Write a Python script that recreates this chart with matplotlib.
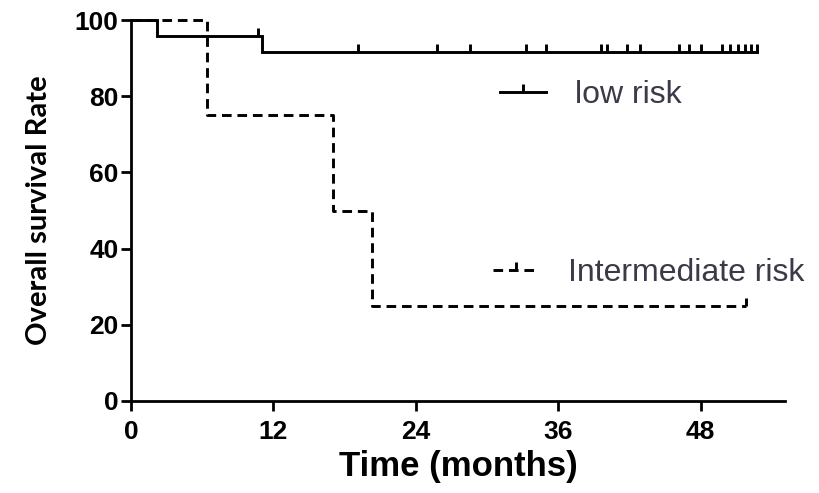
import matplotlib
matplotlib.use("Agg")
import matplotlib.pyplot as plt
from matplotlib.lines import Line2D

# ---- data ----
low_times = [0, 2.2, 11.0, 52.7]
low_surv = [100, 95.8, 91.7, 91.7]
low_cens_t = [10.7, 19.1, 25.8, 28.6, 33.3, 35.0, 39.6, 40.1, 41.8, 42.9,
              46.2, 47.0, 48.0, 49.8, 50.5, 51.1, 51.7, 52.2, 52.7]
low_cens_s = [95.8] + [91.7] * 18

int_times = [0, 6.4, 17.0, 20.3, 51.8]
int_surv = [100, 75, 50, 25, 25]
int_cens_t = [51.8]
int_cens_s = [25]

xticks = [0, 12, 24, 36, 48]
yticks = [0, 20, 40, 60, 80, 100]
series_labels = ["low risk", "Intermediate risk"]

# ---- figure ----
fig = plt.figure(figsize=(8.19, 4.93), dpi=100)
ax = fig.add_axes([131 / 819, 1 - 401 / 493, (785 - 131) / 819, (401 - 20) / 493])

lw = 2.1
tick_marker = [(0, 0), (0, 1)]
dash = (3.3, 2.0)

ax.step(low_times, low_surv, where="post", color="black", lw=lw,
        solid_joinstyle="miter", clip_on=False)
ax.plot(low_cens_t, low_cens_s, ls="none", marker=tick_marker, ms=11,
        mew=2.1, color="black", clip_on=False)

ax.step(int_times, int_surv, where="post", color="black", lw=lw,
        dashes=dash, clip_on=False)
ax.plot(int_cens_t, int_cens_s, ls="none", marker=tick_marker, ms=11,
        mew=2.1, color="black", clip_on=False)

ax.set_xlim(0, 55.1)
ax.set_ylim(0, 100)
ax.set_xticks(xticks)
ax.set_yticks(yticks)

for s in ["top", "right"]:
    ax.spines[s].set_visible(False)
for s in ["left", "bottom"]:
    ax.spines[s].set_linewidth(2.0)

ax.tick_params(axis="both", length=7, width=2.0, direction="out",
               labelsize=19, colors="black")
ax.tick_params(axis="x", pad=7)
ax.tick_params(axis="y", pad=2)
for lab in ax.get_xticklabels() + ax.get_yticklabels():
    lab.set_fontfamily("Liberation Sans")
    lab.set_fontweight("bold")

ax.set_xlabel("Time (months)", fontsize=25, fontweight="bold",
              fontfamily="Liberation Sans", labelpad=4)
ax.set_ylabel("Overall survival Rate", fontsize=21, fontweight="bold",
              fontfamily="Lato", labelpad=16)

# ---- legends ----
h1 = Line2D([], [], color="black", lw=lw, marker=tick_marker, ms=11, mew=2.1)
h2 = Line2D([], [], color="black", lw=lw, dashes=dash, marker=tick_marker,
            ms=11, mew=2.1)
leg_kw = dict(frameon=False, handlelength=1.45, handletextpad=0.9,
              borderpad=0, borderaxespad=0, numpoints=1,
              prop={"family": "Liberation Sans", "size": 23})
leg1 = ax.legend([h1], [series_labels[0]], loc="center left",
                 bbox_to_anchor=((500 - 131) / 654, (401 - 95) / 381), **leg_kw)
for t in leg1.get_texts():
    t.set_color("#3a3a48")
ax.add_artist(leg1)
leg2 = ax.legend([h2], [series_labels[1]], loc="center left",
                 bbox_to_anchor=((493 - 131) / 654, (401 - 273) / 381), **leg_kw)
for t in leg2.get_texts():
    t.set_color("#3a3a48")

fig.savefig("out.png", dpi=100)
